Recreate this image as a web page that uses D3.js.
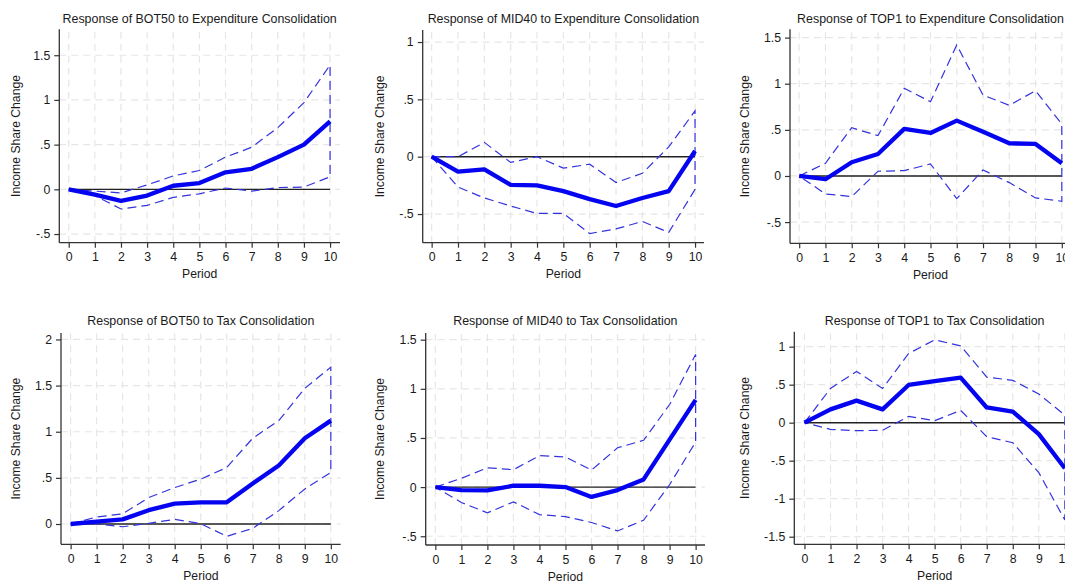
<!DOCTYPE html>
<html>
<head>
<meta charset="utf-8">
<script src="https://cdn.jsdelivr.net/npm/d3@7"></script>
<style>
  html, body { margin: 0; padding: 0; background: #ffffff; }
  svg { display: block; }
  text { font-family: "Liberation Sans", Arial, Helvetica, sans-serif; fill: #1a1a1a; }
</style>
</head>
<body>
<svg id="chart" width="1065" height="581"></svg>
<script>
// Impulse-response horizon
const periods = [0, 1, 2, 3, 4, 5, 6, 7, 8, 9, 10];

// Expenditure consolidation: point estimates and confidence bands
const bot50ExpIrf   = [0, -0.06, -0.13, -0.07, 0.04, 0.07, 0.19, 0.23, 0.36, 0.50, 0.76];
const bot50ExpUpper = [0, -0.02, -0.04, 0.05, 0.15, 0.21, 0.36, 0.47, 0.69, 0.97, 1.39];
const bot50ExpLower = [0, -0.07, -0.22, -0.18, -0.09, -0.05, 0.015, -0.02, 0.02, 0.025, 0.14];

const mid40ExpIrf   = [0, -0.13, -0.11, -0.245, -0.25, -0.30, -0.37, -0.43, -0.36, -0.30, 0.05];
const mid40ExpUpper = [0, 0, 0.125, -0.05, 0, -0.10, -0.065, -0.225, -0.145, 0.085, 0.40];
const mid40ExpLower = [0, -0.265, -0.36, -0.43, -0.495, -0.495, -0.67, -0.63, -0.565, -0.66, -0.285];

const top1ExpIrf    = [0, -0.035, 0.148, 0.238, 0.51, 0.466, 0.60, 0.48, 0.354, 0.347, 0.138];
const top1ExpUpper  = [0, 0.138, 0.523, 0.437, 0.95, 0.805, 1.42, 0.877, 0.766, 0.924, 0.563];
const top1ExpLower  = [0, -0.195, -0.224, 0.051, 0.058, 0.13, -0.246, 0.065, -0.072, -0.238, -0.274];

// Tax consolidation: point estimates and confidence bands
const bot50TaxIrf   = [0, 0.025, 0.05, 0.15, 0.22, 0.235, 0.235, 0.44, 0.634, 0.93, 1.12];
const bot50TaxUpper = [0, 0.076, 0.11, 0.286, 0.395, 0.486, 0.612, 0.93, 1.12, 1.47, 1.70];
const bot50TaxLower = [0, 0, -0.03, 0.007, 0.05, 0.004, -0.134, -0.047, 0.145, 0.38, 0.558];

const mid40TaxIrf   = [0, -0.03, -0.034, 0.014, 0.014, 0, -0.10, -0.03, 0.078, 0.483, 0.888];
const mid40TaxUpper = [0, 0.09, 0.197, 0.177, 0.32, 0.306, 0.173, 0.40, 0.476, 0.84, 1.35];
const mid40TaxLower = [0, -0.156, -0.262, -0.15, -0.28, -0.30, -0.36, -0.446, -0.337, 0.024, 0.459];

const top1TaxIrf    = [0, 0.175, 0.29, 0.175, 0.496, 0.548, 0.592, 0.20, 0.145, -0.15, -0.60];
const top1TaxUpper  = [0, 0.45, 0.675, 0.45, 0.91, 1.09, 1.01, 0.60, 0.557, 0.377, 0.10];
const top1TaxLower  = [0, -0.088, -0.105, -0.10, 0.083, 0.026, 0.162, -0.184, -0.263, -0.658, -1.28];

// Axis tick values
const xTicks = periods;
const yTicksBot50Exp = [-0.5, 0, 0.5, 1, 1.5];
const yTicksMid40Exp = [-0.5, 0, 0.5, 1];
const yTicksTop1Exp  = [-0.5, 0, 0.5, 1, 1.5];
const yTicksBot50Tax = [0, 0.5, 1, 1.5, 2];
const yTicksMid40Tax = [-0.5, 0, 0.5, 1, 1.5];
const yTicksTop1Tax  = [-1.5, -1, -0.5, 0, 0.5, 1];

// Titles
const titles = [
  "Response of BOT50 to Expenditure Consolidation",
  "Response of MID40 to Expenditure Consolidation",
  "Response of TOP1 to Expenditure Consolidation",
  "Response of BOT50 to Tax Consolidation",
  "Response of MID40 to Tax Consolidation",
  "Response of TOP1 to Tax Consolidation"
];
const xTitle = "Period";
const yTitle = "Income Share Change";

// Panel geometry: plot box in pixels plus the value range it spans
const panels = [
  { title: titles[0], irf: bot50ExpIrf, upper: bot50ExpUpper, lower: bot50ExpLower, yTicks: yTicksBot50Exp,
    box: { left: 59.3, right: 340, top: 29.3, bottom: 242.7 }, xDom: [-0.36, 10.38], yDom: [-0.597, 1.79],
    titleY: 18.5, yTitleX: 15.7 },
  { title: titles[1], irf: mid40ExpIrf, upper: mid40ExpUpper, lower: mid40ExpLower, yTicks: yTicksMid40Exp,
    box: { left: 422.7, right: 704, top: 30, bottom: 242.7 }, xDom: [-0.34, 10.34], yDom: [-0.75, 1.105],
    titleY: 18.5, yTitleX: 380 },
  { title: titles[2], irf: top1ExpIrf, upper: top1ExpUpper, lower: top1ExpLower, yTicks: yTicksTop1Exp,
    box: { left: 790, right: 1071, top: 29.3, bottom: 243.3 }, xDom: [-0.35, 10.35], yDom: [-0.73, 1.59],
    titleY: 18.5, yTitleX: 745 },
  { title: titles[3], irf: bot50TaxIrf, upper: bot50TaxUpper, lower: bot50TaxLower, yTicks: yTicksBot50Tax,
    box: { left: 61, right: 340.7, top: 333, bottom: 544.3 }, xDom: [-0.37, 10.38], yDom: [-0.22, 2.07],
    titleY: 320.7, yTitleX: 15.7 },
  { title: titles[4], irf: mid40TaxIrf, upper: mid40TaxUpper, lower: mid40TaxLower, yTicks: yTicksMid40Tax,
    box: { left: 425.7, right: 705, top: 333, bottom: 545 }, xDom: [-0.37, 10.36], yDom: [-0.589, 1.568],
    titleY: 320.3, yTitleX: 380 },
  { title: titles[5], irf: top1TaxIrf, upper: top1TaxUpper, lower: top1TaxLower, yTicks: yTicksTop1Tax,
    box: { left: 794.3, right: 1075, top: 331.7, bottom: 544.3 }, xDom: [-0.39, 10.39], yDom: [-1.6, 1.197],
    titleY: 320.3, yTitleX: 744.3 }
];

// Stata-style number labels: ".5", "-.5", "1.5"
function fmt(v) {
  if (v === 0) return "0";
  let s = String(v);
  return s.replace(/^0\./, ".").replace(/^-0\./, "-.");
}

const svg = d3.select("#chart");

panels.forEach(p => {
  const g = svg.append("g");
  const x = d3.scaleLinear().domain(p.xDom).range([p.box.left, p.box.right]);
  const y = d3.scaleLinear().domain(p.yDom).range([p.box.bottom, p.box.top]);

  // Dashed grid
  const grid = g.append("g").attr("stroke", "#e6e6e6").attr("stroke-width", 1.2)
    .attr("stroke-dasharray", "7,5").attr("fill", "none");
  grid.selectAll("line.v").data(xTicks).join("line").attr("class", "v")
    .attr("x1", d => x(d)).attr("x2", d => x(d))
    .attr("y1", p.box.bottom).attr("y2", p.box.top);
  grid.selectAll("line.h").data(p.yTicks).join("line").attr("class", "h")
    .attr("x1", p.box.left).attr("x2", p.box.right)
    .attr("y1", d => y(d)).attr("y2", d => y(d));

  // Zero reference line
  g.append("line")
    .attr("x1", x(0)).attr("x2", x(10))
    .attr("y1", y(0)).attr("y2", y(0))
    .attr("stroke", "#222").attr("stroke-width", 1.4);

  // Confidence band: upper bound out, lower bound back
  const band = periods.map((t, i) => [t, p.upper[i]])
    .concat(periods.slice().reverse().map(t => [t, p.lower[t]]));
  g.append("path")
    .attr("d", d3.line().x(d => x(d[0])).y(d => y(d[1]))(band))
    .attr("fill", "none").attr("stroke", "#3333dd").attr("stroke-width", 1.2)
    .attr("stroke-dasharray", "9,5");

  // Point estimate
  g.append("path")
    .attr("d", d3.line().x((d, i) => x(periods[i])).y(d => y(d))(p.irf))
    .attr("fill", "none").attr("stroke", "#0404f0").attr("stroke-width", 4.3)
    .attr("stroke-linejoin", "round");

  // Axes
  const xAxis = d3.axisBottom(x).tickValues(xTicks).tickSize(5).tickPadding(5).tickFormat(d3.format("d"));
  const yAxis = d3.axisLeft(y).tickValues(p.yTicks).tickSize(5).tickPadding(4).tickFormat(fmt);

  const gx = g.append("g").attr("transform", `translate(0,${p.box.bottom})`).call(xAxis);
  const gy = g.append("g").attr("transform", `translate(${p.box.left},0)`).call(yAxis);
  [gx, gy].forEach(a => {
    a.select(".domain").remove();
    a.selectAll(".tick line").attr("stroke", "#333").attr("stroke-width", 1.2);
    a.selectAll(".tick text").style("font-size", "12.3px").attr("fill", "#1a1a1a");
  });
  g.append("line").attr("x1", p.box.left).attr("x2", p.box.right)
    .attr("y1", p.box.bottom).attr("y2", p.box.bottom)
    .attr("stroke", "#333").attr("stroke-width", 1.3);
  g.append("line").attr("x1", p.box.left).attr("x2", p.box.left)
    .attr("y1", p.box.top).attr("y2", p.box.bottom)
    .attr("stroke", "#333").attr("stroke-width", 1.3);

  // Titles
  const cx = (p.box.left + p.box.right) / 2;
  g.append("text").attr("x", cx).attr("y", p.titleY).attr("dy", "0.35em")
    .attr("text-anchor", "middle").style("font-size", "12.4px").text(p.title);
  g.append("text").attr("x", cx).attr("y", p.box.bottom + 31.3).attr("dy", "0.35em")
    .attr("text-anchor", "middle").style("font-size", "12.2px").text(xTitle);
  const cy = (p.box.top + p.box.bottom) / 2;
  g.append("text").attr("transform", `translate(${p.yTitleX},${cy}) rotate(-90)`)
    .attr("dy", "0.35em").attr("text-anchor", "middle").style("font-size", "12.2px").text(yTitle);
});
</script>
</body>
</html>
